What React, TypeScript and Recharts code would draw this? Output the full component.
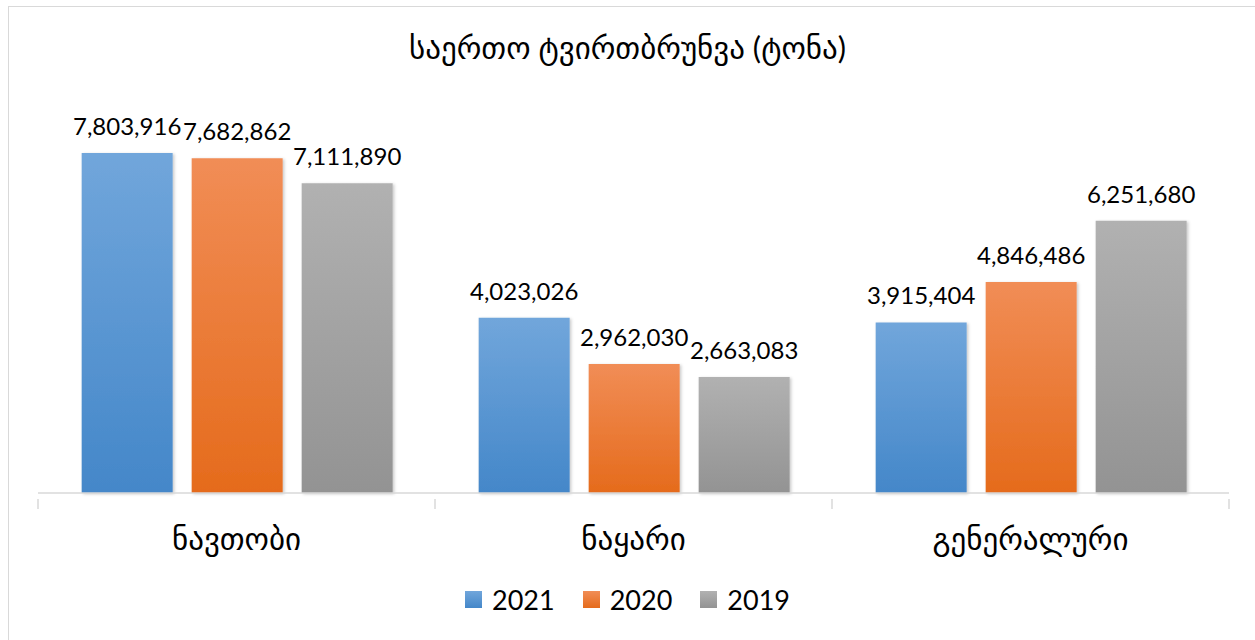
import React from 'react';
import { BarChart, Bar, XAxis, YAxis, Legend, LabelList } from 'recharts';

const categories = ['ნავთობი', 'ნაყარი', 'გენერალური'];
const values2021 = [7803916, 4023026, 3915404];
const values2020 = [7682862, 2962030, 4846486];
const values2019 = [7111890, 2663083, 6251680];

const seriesNames = ['2021', '2020', '2019'];
const title = 'საერთო ტვირთბრუნვა (ტონა)';

const data = categories.map((name, i) => ({
    name,
    y2021: values2021[i],
    y2020: values2020[i],
    y2019: values2019[i],
}));

const seriesStyle = [
    { key: 'y2021', name: seriesNames[0], top: '#71a6db', bottom: '#4487c9', id: 'gBlue' },
    { key: 'y2020', name: seriesNames[1], top: '#f18d56', bottom: '#e56b1c', id: 'gOrange' },
    { key: 'y2019', name: seriesNames[2], top: '#b1b1b1', bottom: '#939393', id: 'gGray' },
];

const FONT = "Lato, 'DejaVu Sans', sans-serif";
const W = 1255;
const H = 640;
const AXIS_H = 30;
const margin = { top: 101, right: 26, left: 38, bottom: 147 - AXIS_H };

// tick marks at the category boundaries instead of the centres
const CategoryTick = (props: any) => {
    const { x, y, payload, index, visibleTicksCount } = props;
    const half = payload?.offset || (W - margin.left - margin.right) / categories.length / 2;
    const axisY = y - 2;
    return (
        <g>
            <line x1={x - half} y1={axisY} x2={x - half} y2={axisY + 10} stroke="#d9d9d9" strokeWidth={1.5} />
            {index === visibleTicksCount - 1 && (
                <line x1={x + half} y1={axisY} x2={x + half} y2={axisY + 10} stroke="#d9d9d9" strokeWidth={1.5} />
            )}
            <text x={x} y={axisY + 51} textAnchor="middle" fontSize={31} fill="#000" fontFamily={FONT}>
                {payload.value}
            </text>
        </g>
    );
};

const LegendContent = () => (
    <div style={{ display: 'flex', justifyContent: 'center', gap: 28, fontFamily: FONT, fontSize: 27, color: '#000' }}>
        {seriesStyle.map(s => (
            <div key={s.key} style={{ display: 'flex', alignItems: 'center', gap: 10 }}>
                <span style={{
                    display: 'inline-block', width: 17, height: 17,
                    background: `linear-gradient(${s.top}, ${s.bottom})`,
                }} />
                <span>{s.name}</span>
            </div>
        ))}
    </div>
);

export default function App() {
    return (
        <div style={{ position: 'absolute', left: 0, top: 0, width: W, height: H, overflow: 'hidden', background: '#fff' }}>
            <div style={{
                position: 'absolute', left: 8, top: 6, width: W, height: H,
                border: '1.5px solid #d9d9d9', boxSizing: 'border-box',
            }} />
            <div style={{
                position: 'absolute', left: 0, top: 28, width: W, textAlign: 'center',
                fontFamily: FONT, fontSize: 31, color: '#000',
            }}>
                {title}
            </div>
            <div style={{ position: 'absolute', left: 0, top: 0 }}>
                <BarChart width={W} height={H} data={data} margin={margin} barCategoryGap="11%" barGap={19}>
                    <defs>
                        {seriesStyle.map(s => (
                            <linearGradient key={s.id} id={s.id} x1="0" y1="0" x2="0" y2="1">
                                <stop offset="0%" stopColor={s.top} />
                                <stop offset="100%" stopColor={s.bottom} />
                            </linearGradient>
                        ))}
                        <filter id="barShadow" x="-10%" y="-10%" width="130%" height="130%">
                            <feDropShadow dx="1.5" dy="1" stdDeviation="1.5" floodColor="#000" floodOpacity="0.22" />
                        </filter>
                    </defs>
                    <XAxis
                        dataKey="name"
                        height={AXIS_H}
                        axisLine={{ stroke: '#d9d9d9', strokeWidth: 1.5 }}
                        tickLine={false}
                        tick={<CategoryTick />}
                        interval={0}
                    />
                    <YAxis hide domain={[0, 9000000]} />
                    <Legend
                        layout="horizontal"
                        verticalAlign="middle"
                        align="center"
                        wrapperStyle={{ top: 583, left: 0, width: W }}
                        content={<LegendContent />}
                    />
                    {seriesStyle.map(s => (
                        <Bar
                            key={s.key}
                            dataKey={s.key}
                            name={s.name}
                            fill={`url(#${s.id})`}
                            filter="url(#barShadow)"
                            isAnimationActive={false}
                        >
                            <LabelList
                                dataKey={s.key}
                                position="top"
                                offset={18}
                                fill="#000"
                                fontSize={24}
                                fontFamily={FONT}
                                formatter={(v: any) => Number(v).toLocaleString('en-US')}
                            />
                        </Bar>
                    ))}
                </BarChart>
            </div>
        </div>
    );
}
